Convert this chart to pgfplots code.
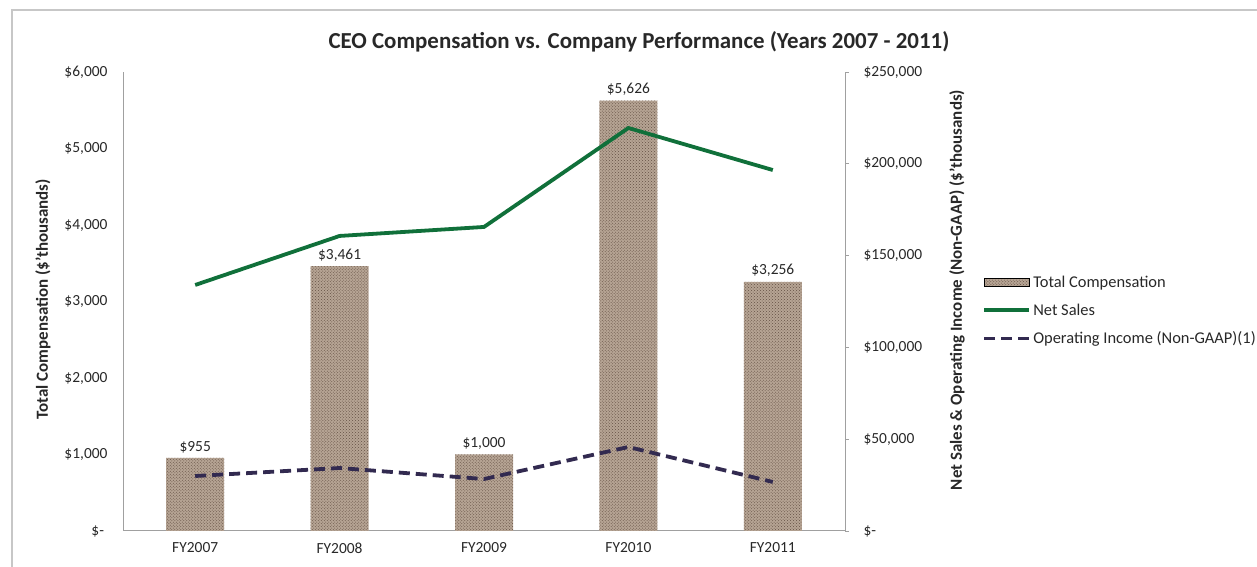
\documentclass[border=0pt]{standalone}
\usepackage{pgfplots}
\pgfplotsset{compat=1.18}
\usetikzlibrary{patterns}
\usepackage{fontspec}
\setmainfont{Carlito}
\definecolor{netgreen}{RGB}{16,112,58}
\definecolor{opnavy}{RGB}{50,42,80}
\definecolor{bartan}{RGB}{182,164,148}
\definecolor{bardark}{RGB}{100,80,68}
\definecolor{axgray}{RGB}{160,160,160}
\definecolor{txt}{RGB}{40,40,40}
\pgfplotsset{mylinelegend/.style={legend image code/.code={\draw[##1] (0bp,0bp) -- (45bp,0bp);}}}
\pgfplotsset{mybarlegend/.style={legend image code/.code={\fill[bartan] (0bp,-4bp) rectangle (45bp,4bp); \fill[pattern=crosshatch dots, pattern color=bardark] (0bp,-4bp) rectangle (45bp,4bp);}}}
\begin{document}
\begin{tikzpicture}[x=1bp,y=1bp]
\path[use as bounding box] (0,0) rectangle (1257,567);
\draw[color=black!22, line width=2bp] (12,-5) |- (1265,557);
\node[font=\bfseries\fontsize{23}{27}\selectfont, text=txt] at (639,525) {CEO Compensation vs. Company Performance (Years 2007 - 2011)};
\begin{axis}[
  at={(123bp,36bp)}, anchor=south west, scale only axis,
  width=722bp, height=459bp,
  xmin=-0.5, xmax=4.5, ymin=0, ymax=6000,
  axis x line*=bottom, axis y line*=left,
  axis line style={axgray, line width=1bp},
  xtick={0,1,2,3,4},
  xticklabels={FY2007,FY2008,FY2009,FY2010,FY2011},
  xtick style={draw=none},
  ytick={0,1000,2000,3000,4000,5000,6000},
  yticklabels={{\$-\ \ },{\$1,000},{\$2,000},{\$3,000},{\$4,000},{\$5,000},{\$6,000}},
  ytick style={draw=none},
  tick label style={font=\fontsize{15.5}{18}\selectfont, text=txt},
  yticklabel style={xshift=-12bp},
  xticklabel style={yshift=-8bp},
  ylabel={Total Compensation (\$'thousands)},
  ylabel style={font=\bfseries\fontsize{17}{20}\selectfont, text=txt, at={(axis description cs:-0.111,0.505)}, anchor=center},
  /pgf/number format/assume math mode=true,
  nodes near coords={\$\pgfmathprintnumber[fixed,precision=0,1000 sep={,}]{\pgfplotspointmeta}},
  nodes near coords style={font=\fontsize{15.5}{18}\selectfont, text=txt, inner sep=5bp},
  clip=false,
]
\addplot[ybar, bar width=58bp, fill=bartan, draw=none,
  postaction={pattern=crosshatch dots, pattern color=bardark}]
  coordinates {(0,955) (1,3461) (2,1000) (3,5626) (4,3256)};
\end{axis}
\begin{axis}[
  at={(123bp,36bp)}, anchor=south west, scale only axis,
  width=722bp, height=459bp,
  xmin=-0.5, xmax=4.5, ymin=0, ymax=250000,
  axis x line=none, axis y line*=right,
  axis line style={axgray, line width=1bp},
  scaled y ticks=false,
  ytick={0,50000,100000,150000,200000,250000},
  yticklabels={{\$-},{\$50,000},{\$100,000},{\$150,000},{\$200,000},{\$250,000}},
  ytick style={axgray, line width=0.8bp},
  tick align=outside, major tick length=4bp,
  tick label style={font=\fontsize{15.5}{18}\selectfont, text=txt},
  yticklabel style={xshift=11bp},
  ylabel={Net Sales \& Operating Income (Non-GAAP) (\$'thousands)},
  ylabel style={font=\bfseries\fontsize{17}{20}\selectfont, text=txt, at={(axis description cs:1.155,0.525)}, anchor=center},
  legend style={draw=none, fill=none, at={(1.186,0.48)}, anchor=west,
    font=\fontsize{16.5}{19}\selectfont, text=txt, row sep=11bp,
    nodes={inner xsep=2bp}},
  legend cell align=left,
  clip=false,
]
\addlegendimage{mybarlegend}
\addplot[netgreen, line width=3.8bp, mark=none, mylinelegend]
  coordinates {(0,134000) (1,160700) (2,165600) (3,219500) (4,196600)};
\addplot[opnavy, line width=3.8bp, mark=none, dash pattern=on 11bp off 6bp, mylinelegend]
  coordinates {(0,29950) (1,34300) (2,28300) (3,45750) (4,26700)};
\legend{Total Compensation, Net Sales, Operating Income (Non-GAAP)(1)}
\end{axis}
\end{tikzpicture}
\end{document}
